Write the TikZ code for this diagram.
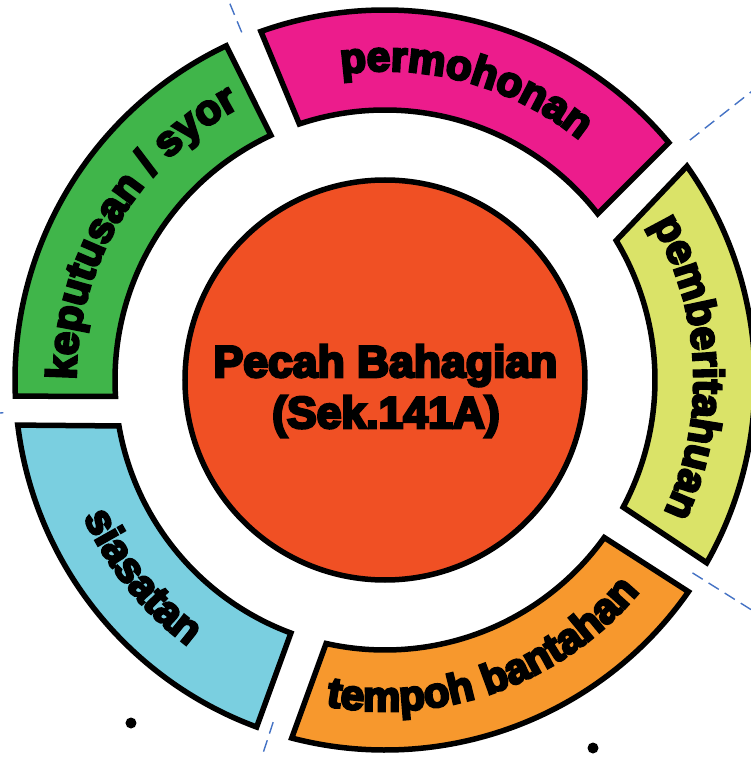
\documentclass[tikz,border=0pt]{standalone}
\usepackage{fontspec}
\usetikzlibrary{decorations.text}
\newfontfamily\heavy{Liberation Sans}[BoldFeatures={FakeBold=6}]
\definecolor{cgreen}{RGB}{64,181,74}
\definecolor{cpink}{RGB}{236,28,140}
\definecolor{cyellow}{RGB}{218,227,104}
\definecolor{corange}{RGB}{247,152,45}
\definecolor{cblue}{RGB}{122,207,224}
\definecolor{ccore}{RGB}{240,80,36}
\definecolor{cguide}{RGB}{68,114,196}
\newcommand{\ringfont}{\heavy\bfseries\fontsize{42}{42}\selectfont}
\newcommand{\corefont}{\heavy\bfseries\fontsize{44.5}{50}\selectfont}
\begin{document}
\begin{tikzpicture}[x=1pt,y=1pt,
  seg/.style={draw=black, line width=5.5pt},
  guide/.style={draw=cguide, line width=1.4pt, dash pattern=on 12pt off 7pt},
  dot/.style={circle, fill=black, inner sep=0pt, minimum size=11pt},
  ringtext/.style={decorate, decoration={text along path, text align=center, text={#1}}}
]
\useasboundingbox (-385,-378) rectangle (365,380);
% guide lines (behind)
\draw[guide] (112.4:376) -- (112.4:440);
\draw[guide] (38.2:388) -- (38.2:480);
\draw[guide] (-32.1:363) -- (-32.1:440);
\draw[guide] (-108.1:360) -- (-108.1:420);
\draw[guide] (184.9:383) -- (184.9:400);
% ring segments
\draw[seg, fill=cgreen] (115.4:370) arc[start angle=115.4, end angle=182.5, radius=370]
  -- (183.5:270) arc[start angle=183.5, end angle=115.0, radius=270] -- cycle;
\draw[seg, fill=cpink] (39.9:370) arc[start angle=39.9, end angle=109.6, radius=370]
  -- (108.5:270) arc[start angle=108.5, end angle=38.0, radius=270] -- cycle;
\draw[seg, fill=cyellow] (-29.6:370) arc[start angle=-29.6, end angle=35.3, radius=370]
  -- (31.1:270) arc[start angle=31.1, end angle=-28.1, radius=270] -- cycle;
\draw[seg, fill=corange] (-104.6:370) arc[start angle=-104.6, end angle=-34.9, radius=370]
  -- (-35.7:270) arc[start angle=-35.7, end angle=-102.6, radius=270] -- cycle;
\draw[seg, fill=cblue] (187.0:370) arc[start angle=187.0, end angle=249.7, radius=370]
  -- (249.6:270) arc[start angle=249.6, end angle=189.8, radius=270] -- cycle;
% ring texts
\path[ringtext={|\ringfont|permohonan}] (154.5:309) arc[start angle=154.5, end angle=-5.5, radius=309];
\path[ringtext={|\ringfont|keputusan / syor}] (229:309) arc[start angle=229, end angle=69, radius=309];
\path[ringtext={|\ringfont|pemberitahuan}] (82.5:309) arc[start angle=82.5, end angle=-77.5, radius=309];
\path[ringtext={|\ringfont|tempoh bantahan}] (-150:331) arc[start angle=-150, end angle=10, radius=331];
\path[ringtext={|\ringfont|siasatan}] (139:331) arc[start angle=139, end angle=299, radius=331];
% core
\node[seg, circle, fill=ccore, inner sep=0pt, minimum size=400pt] (core) at (0,0) {};
\node[font=\corefont, anchor=base] (title) at (0.5,3) {Pecah Bahagian};
\node[font=\corefont, anchor=base] (section) at (1,-48) {(Sek.141A)};
% dots
\node[dot] (d1) at (-254,-343) {};
\node[dot] (d2) at (208,-368) {};
\end{tikzpicture}
\end{document}
